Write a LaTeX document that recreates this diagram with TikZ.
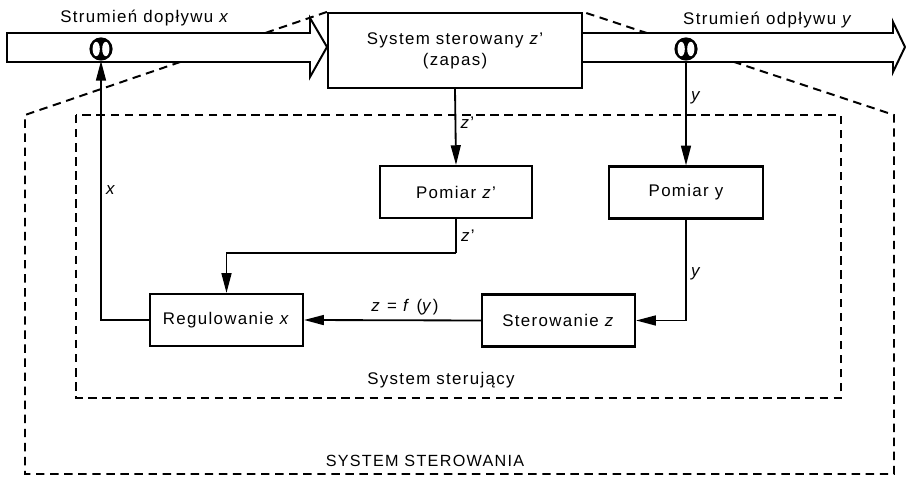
\documentclass[tikz,border=0pt]{standalone}
\usepackage{fontspec}
\setmainfont{Liberation Sans}[LetterSpace=8]
\usetikzlibrary{arrows.meta,calc}
\tikzset{
  blok/.style={draw, line width=1.5pt, fill=white, minimum height=1.3cm, inner sep=2pt,
    font=\fontsize{12}{15}\selectfont, align=center},
  pol/.style={line width=1.3pt, -{Triangle[length=14pt,width=7pt]}},
  lin/.style={line width=1.3pt},
  lbl/.style={font=\fontsize{12}{14}\selectfont, inner sep=3pt},
  granica/.style={line width=1.4pt, dash pattern=on 6pt off 4pt},
  pasmo/.style={line width=1.4pt, fill=white, line join=miter},
  zawor/.style={circle, fill=black, minimum size=0.58cm, inner sep=0pt,
    path picture={
      \fill[white] ([xshift=-1.2mm]path picture bounding box.center) ellipse (0.9mm and 1.8mm);
      \fill[white] ([xshift=1.2mm]path picture bounding box.center) ellipse (0.9mm and 1.8mm);
    }},
}
\begin{document}
\begin{tikzpicture}[x=0.025cm, y=-0.025cm]
  \useasboundingbox (0,0) rectangle (906,477);

  % Bloki
  \node[blok, minimum width=6.35cm, minimum height=1.875cm] (sys) at (455,50.5)
    {System sterowany \textit{z}'\\(zapas)};
  \node[blok, minimum width=3.8cm] (pz) at (456,192) {Pomiar \textit{z}'};
  \node[blok, minimum width=3.85cm] (py) at (686,192.5) {Pomiar y};
  \node[blok, minimum width=3.825cm] (reg) at (226.5,320) {Regulowanie \textit{x}};
  \node[blok, minimum width=3.825cm] (ster) at (558.5,320.5) {Sterowanie \textit{z}};

  % Granice systemow
  \draw[granica] (sys.north west) -- (25,115) -- (25,474) -- (894,474) -- (894,115) -- (sys.north east);
  \draw[granica] (76,115) rectangle (841,398);
  \node[lbl] (sterujacy) at (441,380) {System sterujący};
  \node[lbl, font=\fontsize{11.5}{14}\selectfont] (sterowania) at (425,461) {SYSTEM STEROWANIA};

  % Strumienie
  \draw[pasmo] (7,33) -- (310,33) -- (310,18) -- (327,47) -- (310,77) -- (310,62) -- (7,62) -- cycle;
  \draw[pasmo] (sys.east |- 0,33) -- (893,33) -- (893,22) -- (905,47) -- (893,72) -- (893,62) -- (sys.east |- 0,62);
  \node[zawor] (vin) at (101,49) {};
  \node[zawor] (vout) at (686,49) {};
  \node[lbl] (dop) at (145,18) {Strumień dopływu \textit{x}};
  \node[lbl] (odp) at (768,20) {Strumień odpływu \textit{y}};

  % Polaczenia
  \draw[pol] (sys.south) -- node[lbl, right, pos=0.44] {\textit{z}'} (pz.north);
  \draw[pol] (vout.south) -- node[lbl, right, pos=0.35] {\textit{y}} (py.north);
  \coordinate (zb) at (456,253);
  \draw[lin] (pz.south) -- node[lbl, right] {\textit{z}'} (zb);
  \draw[pol] (zb) -| (reg.north);
  \draw[pol] (py.south) |- node[lbl, right, pos=0.27] {\textit{y}} (ster.east);
  \draw[pol] (ster.west) -- node[lbl, above, pos=0.43] {\textit{z} = \textit{f} (\textit{y})} (reg.west -| reg.east);
  \draw[pol] (reg.west) -| node[lbl, right, pos=0.75] {\textit{x}} (vin.south);
\end{tikzpicture}
\end{document}
